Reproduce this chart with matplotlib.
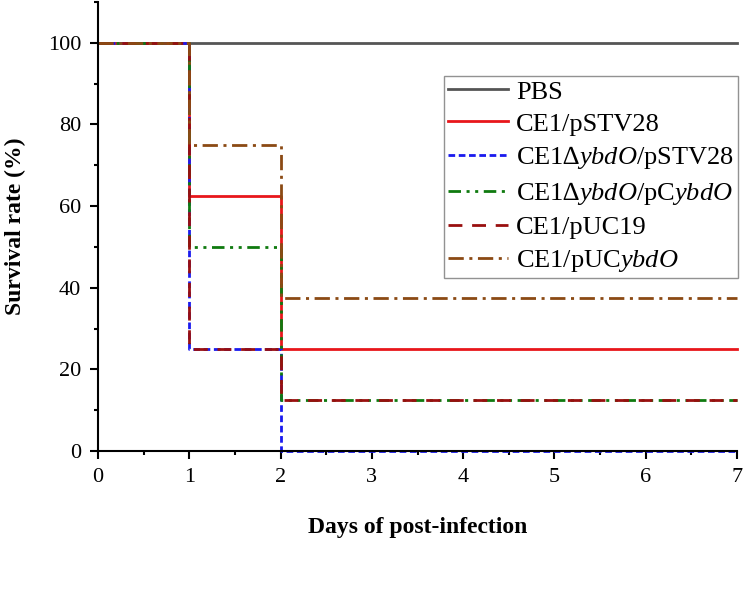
import matplotlib
matplotlib.use('Agg')
import matplotlib.pyplot as plt

plt.rcParams['font.family'] = ['Liberation Serif', 'DejaVu Serif']
plt.rcParams['mathtext.fontset'] = 'custom'
plt.rcParams['mathtext.rm'] = 'Liberation Serif'
plt.rcParams['mathtext.it'] = 'Liberation Serif:italic'
plt.rcParams['mathtext.bf'] = 'Liberation Serif:bold'

# survival data (days, %)
days = [0, 1, 2, 7]
pbs = [100, 100, 100, 100]
ce1_pstv28 = [100, 62.5, 25, 25]
ko_pstv28 = [100, 25, 0, 0]
ko_pcybdo = [100, 50, 12.5, 12.5]
ce1_puc19 = [100, 25, 12.5, 12.5]
ce1_pucybdo = [100, 75, 37.5, 37.5]

labels = ['PBS', 'CE1/pSTV28', 'CE1\u2206$\\mathit{ybdO}$/pSTV28',
          'CE1\u2206$\\mathit{ybdO}$/pC$\\mathit{ybdO}$', 'CE1/pUC19',
          'CE1/pUC$\\mathit{ybdO}$']
series = [pbs, ce1_pstv28, ko_pstv28, ko_pcybdo, ce1_puc19, ce1_pucybdo]
colors = ['#555555', '#e8161b', '#1a1aee', '#0f7a0f', '#990f0f', '#8b4a14']
dashes = [(None, None), (None, None), (2.4, 1.3), (4.5, 2, 1.1, 2, 1.1, 2),
          (5, 3.5), (5.5, 2, 1.1, 2)]

fig = plt.figure(figsize=(7.44, 5.99), dpi=100)
ax = fig.add_axes([0.1317, 0.247, 0.859, 0.7497])

for y, lab, c, d in zip(series, labels, colors, dashes):
    line, = ax.step(days, y, where='post', color=c, lw=2, label=lab, clip_on=False)
    if d[0] is not None:
        line.set_dashes(d)

ax.set_xlim(0, 7)
ax.set_ylim(0, 110)
ax.set_xticks(range(0, 8))
ax.set_xticks([x + 0.5 for x in range(7)], minor=True)
ax.set_yticks(range(0, 101, 20))
ax.set_yticks(range(10, 111, 20), minor=True)
ax.spines['top'].set_visible(False)
ax.spines['right'].set_visible(False)
for s in ['left', 'bottom']:
    ax.spines[s].set_linewidth(1.5)
ax.tick_params(which='major', length=6, width=1.5, labelsize=16, pad=6)
ax.tick_params(which='minor', length=3, width=1.5)

ax.set_xlabel('Days of post-infection', fontsize=17, fontweight='bold', labelpad=22)
ax.set_ylabel('Survival rate (%)', fontsize=17, fontweight='bold', labelpad=16)

leg = ax.legend(loc='upper right', bbox_to_anchor=(0.992, 0.873),
                bbox_transform=fig.transFigure, fontsize=19, frameon=True,
                fancybox=False, edgecolor='#777777', borderpad=0.15,
                handlelength=2.3, handletextpad=0.3, labelspacing=0.33,
                borderaxespad=0)
leg.get_frame().set_linewidth(1.0)

fig.savefig('out.png', dpi=100)
